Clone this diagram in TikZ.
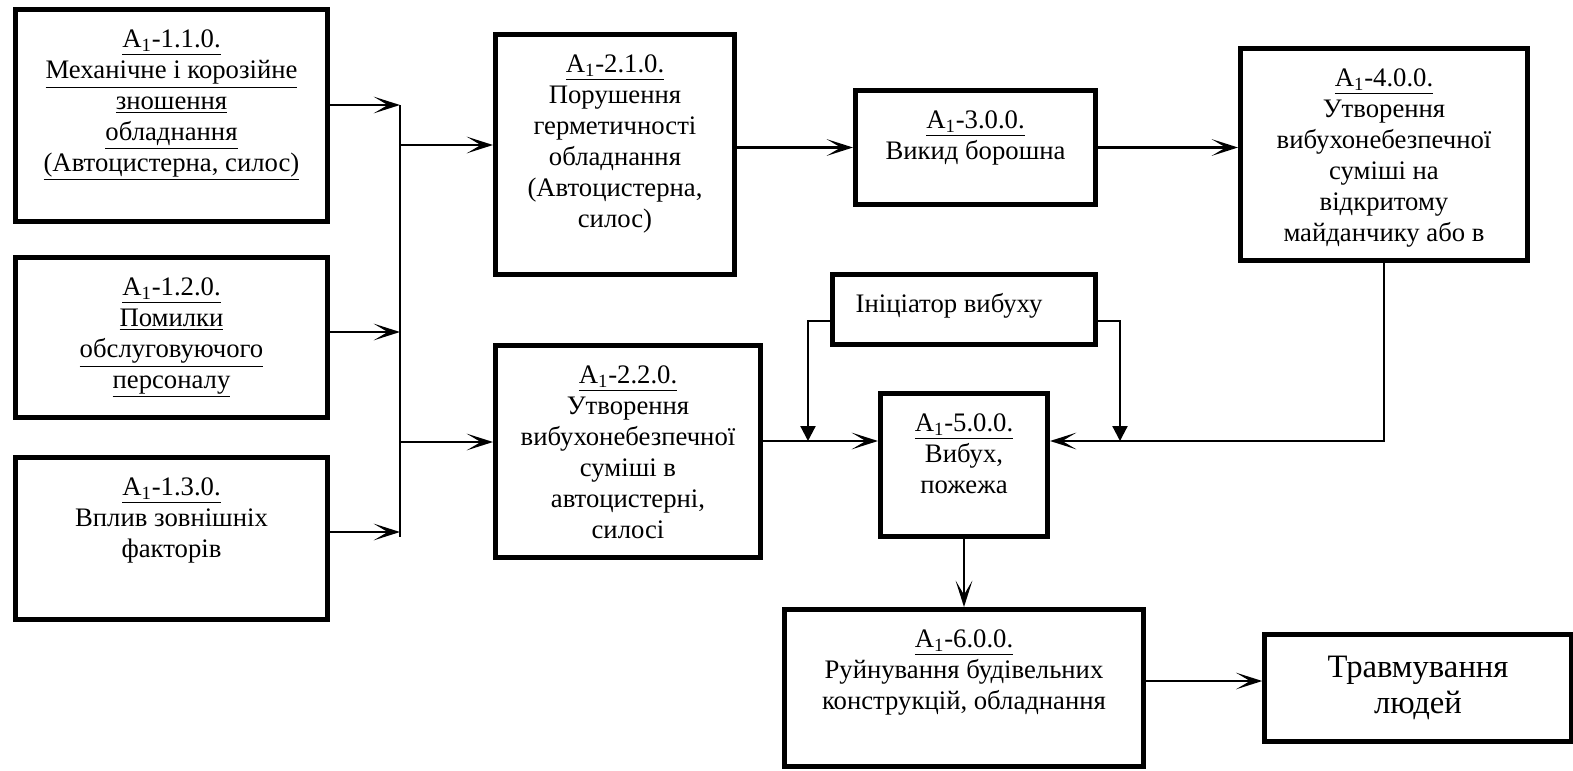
\documentclass[tikz,border=0pt]{standalone}
\usepackage{fontspec}
\setmainfont{Liberation Serif}
\usetikzlibrary{arrows.meta, positioning}

\begin{document}
\begin{tikzpicture}[x=0.02cm, y=-0.02cm, ->, >={Stealth[length=15pt,width=9.5pt,inset=8pt]}, line width=1.25pt,
    blk/.style={draw, line width=2.85pt, inner sep=0pt},
    lbl/.style={anchor=north, inner sep=0pt, align=center, font=\fontsize{15.2}{17.6}\selectfont},
    drop/.style={-{Triangle[length=8.5pt,width=8.5pt]}}]

        \useasboundingbox (0,0) rectangle (1573,771);

        \node[blk, minimum width=6.24cm, minimum height=4.24cm] (b11)  at (171.5,115.5) {};
        \node[blk, minimum width=6.24cm, minimum height=3.2cm]  (b12)  at (171.5,337.5) {};
        \node[blk, minimum width=6.24cm, minimum height=3.24cm] (b13)  at (171.5,538.5) {};
        \node[blk, minimum width=4.78cm, minimum height=4.8cm]  (b21)  at (615,154.5)   {};
        \node[blk, minimum width=5.3cm,  minimum height=4.24cm] (b22)  at (628,451.5)   {};
        \node[blk, minimum width=4.8cm,  minimum height=2.28cm] (b30)  at (975.5,147.5) {};
        \node[blk, minimum width=5.74cm, minimum height=4.24cm] (b40)  at (1384,154.5)  {};
        \node[blk, minimum width=5.26cm, minimum height=1.4cm]  (init) at (964,309.5)   {};
        \node[blk, minimum width=3.34cm, minimum height=2.86cm] (b50)  at (964,465)     {};
        \node[blk, minimum width=7.2cm,  minimum height=3.14cm] (b60)  at (964,688)     {};
        \node[blk, minimum width=6.13cm, minimum height=2.14cm, align=center,
              font=\fontsize{18.6}{21}\selectfont] (b70) at (1418,688) {Травмування\\людей};

        \node[lbl] (t11) at ([yshift=-10.3pt]b11.north) {\strut\underline{А\textsubscript{1}-1.1.0.}\\
            \underline{Механічне і корозійне}\\ \underline{зношення}\\ \underline{обладнання}\\
            \underline{(Автоцистерна, силос)}};
        \node[lbl] (t12) at ([yshift=-10.3pt]b12.north) {\strut\underline{А\textsubscript{1}-1.2.0.}\\
            \underline{Помилки}\\ \underline{обслуговуючого}\\ \underline{персоналу}};
        \node[lbl] (t13) at ([yshift=-10.3pt]b13.north) {\strut\underline{А\textsubscript{1}-1.3.0.}\\
            Вплив зовнішніх\\ факторів};
        \node[lbl] (t21) at ([yshift=-10.3pt]b21.north) {\strut\underline{А\textsubscript{1}-2.1.0.}\\
            Порушення\\ герметичності\\ обладнання\\ (Автоцистерна,\\ силос)};
        \node[lbl] (t22) at ([yshift=-10.3pt]b22.north) {\strut\underline{А\textsubscript{1}-2.2.0.}\\
            Утворення\\ вибухонебезпечної\\ суміші в\\ автоцистерні,\\ силосі};
        \node[lbl] (t30) at ([yshift=-10.3pt]b30.north) {\strut\underline{А\textsubscript{1}-3.0.0.}\\
            Викид борошна};
        \node[lbl] (t40) at ([yshift=-10.3pt]b40.north) {\strut\underline{А\textsubscript{1}-4.0.0.}\\
            Утворення\\ вибухонебезпечної\\ суміші на\\ відкритому\\ майданчику або в};
        \node[lbl] (t0)  at ([xshift=-8.5pt,yshift=-10.3pt]init.north) {\strut Ініціатор вибуху};
        \node[lbl] (t50) at ([yshift=-10.3pt]b50.north) {\strut\underline{А\textsubscript{1}-5.0.0.}\\
            Вибух,\\ пожежа};
        \node[lbl] (t60) at ([yshift=-10.3pt]b60.north) {\strut\underline{А\textsubscript{1}-6.0.0.}\\
            Руйнування будівельних\\ конструкцій, обладнання};

        \coordinate (j1)  at (400,105);
        \coordinate (j2)  at (400,332);
        \coordinate (j3)  at (400,532);
        \coordinate (bt)  at (400,537);
        \coordinate (k1)  at (400,145);
        \coordinate (k2)  at (400,442);
        \coordinate (lvl) at (0,441);
        \coordinate (lv6) at (0,681);
        \coordinate (ini) at (0,321);
        \coordinate (dl)  at (808,441);
        \coordinate (dr)  at (1120,441);

        \draw (b11.east |- j1) -- (j1);
        \draw (b12.east |- j2) -- (j2);
        \draw (b13.east |- j3) -- (j3);
        \draw[-] (j1) -- (bt);
        \draw (k1) -- (k1 -| b21.west);
        \draw (k2) -- (k2 -| b22.west);
        \draw (b21.east |- b30.west) -- (b30.west);
        \draw (b30.east) -- (b30.east -| b40.west);
        \draw (b22.east |- lvl) -- (b50.west |- lvl);
        \draw (b40.south) -- (b40.south |- lvl) -- (b50.east |- lvl);
        \draw[drop] (init.west |- ini) -| (dl);
        \draw[drop] (init.east |- ini) -| (dr);
        \draw (b50.south) -- (b60.north);
        \draw (b60.east |- lv6) -- (b70.west |- lv6);

\end{tikzpicture}
\end{document}
